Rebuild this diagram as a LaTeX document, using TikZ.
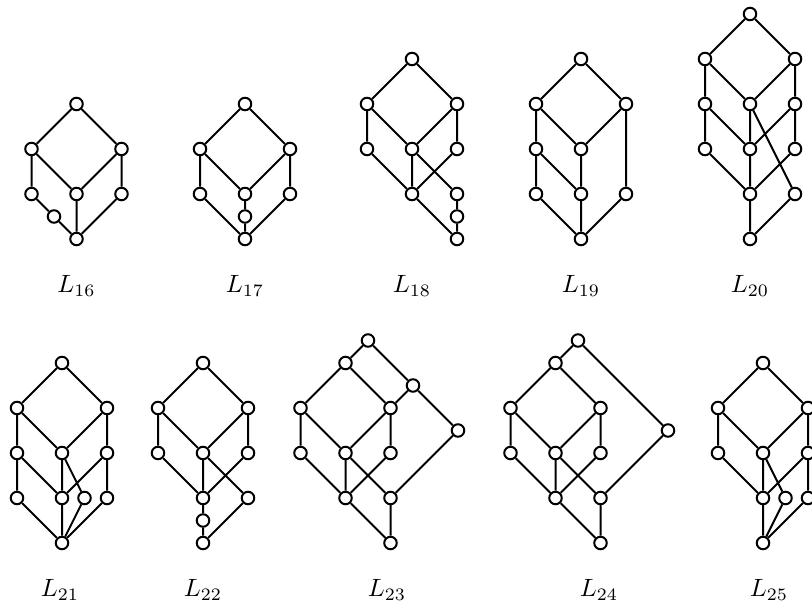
\documentclass[tikz,border=0pt]{standalone}
\begin{document}
\begin{tikzpicture}[x=0.4pt,y=-0.4pt,
  v/.style={circle,draw,fill=white,inner sep=0pt,minimum size=5pt,line width=0.8pt},
  e/.style={line width=0.8pt},
  lab/.style={anchor=base,inner sep=0pt}]
\useasboundingbox (0,0) rectangle (812,610);
% ---------- L16
\node[v] (a-t) at (76.5,104) {};
\node[v] (a-l2) at (31.5,149) {};
\node[v] (a-r2) at (121.5,149) {};
\node[v] (a-l3) at (31.5,194) {};
\node[v] (a-m3) at (76.5,194) {};
\node[v] (a-r3) at (121.5,194) {};
\node[v] (a-s) at (54,216.5) {};
\node[v] (a-b) at (76.5,239) {};
\draw[e] (a-t)--(a-l2) (a-t)--(a-r2) (a-l2)--(a-m3) (a-r2)--(a-m3)
  (a-l2)--(a-l3) (a-r2)--(a-r3) (a-l3)--(a-s) (a-s)--(a-b) (a-m3)--(a-b) (a-r3)--(a-b);
\node[lab] (lab16) at (76.5,293) {$L_{16}$};
% ---------- L17
\node[v] (b-t) at (245,104) {};
\node[v] (b-l2) at (200,149) {};
\node[v] (b-r2) at (290,149) {};
\node[v] (b-l3) at (200,194) {};
\node[v] (b-m3) at (245,194) {};
\node[v] (b-r3) at (290,194) {};
\node[v] (b-s) at (245,216.5) {};
\node[v] (b-b) at (245,239) {};
\draw[e] (b-t)--(b-l2) (b-t)--(b-r2) (b-l2)--(b-m3) (b-r2)--(b-m3)
  (b-l2)--(b-l3) (b-r2)--(b-r3) (b-l3)--(b-b) (b-m3)--(b-s) (b-s)--(b-b) (b-r3)--(b-b);
\node[lab] (lab17) at (245,293) {$L_{17}$};
% ---------- L18
\node[v] (c-t) at (412,59) {};
\node[v] (c-l2) at (367,104) {};
\node[v] (c-r2) at (457,104) {};
\node[v] (c-l3) at (367,149) {};
\node[v] (c-m3) at (412,149) {};
\node[v] (c-r3) at (457,149) {};
\node[v] (c-m4) at (412,194) {};
\node[v] (c-r4) at (457,194) {};
\node[v] (c-s) at (457,216.5) {};
\node[v] (c-b) at (457,239) {};
\draw[e] (c-t)--(c-l2) (c-t)--(c-r2) (c-l2)--(c-m3) (c-r2)--(c-m3)
  (c-l2)--(c-l3) (c-r2)--(c-r3) (c-l3)--(c-m4) (c-m3)--(c-m4) (c-r3)--(c-m4)
  (c-m3)--(c-r4) (c-r4)--(c-s) (c-s)--(c-b) (c-m4)--(c-b);
\node[lab] (lab18) at (412,293) {$L_{18}$};
% ---------- L19
\node[v] (d-t) at (581,59) {};
\node[v] (d-l2) at (536,104) {};
\node[v] (d-r2) at (626,104) {};
\node[v] (d-l3) at (536,149) {};
\node[v] (d-m3) at (581,149) {};
\node[v] (d-l4) at (536,194) {};
\node[v] (d-m4) at (581,194) {};
\node[v] (d-r4) at (626,194) {};
\node[v] (d-b) at (581,239) {};
\draw[e] (d-t)--(d-l2) (d-t)--(d-r2) (d-l2)--(d-m3) (d-r2)--(d-m3)
  (d-l2)--(d-l3) (d-l3)--(d-l4) (d-l3)--(d-m4) (d-m3)--(d-m4) (d-r2)--(d-r4)
  (d-l4)--(d-b) (d-m4)--(d-b) (d-r4)--(d-b);
\node[lab] (lab19) at (581,293) {$L_{19}$};
% ---------- L20
\node[v] (f-t) at (750,14) {};
\node[v] (f-l2) at (705,59) {};
\node[v] (f-r2) at (795,59) {};
\node[v] (f-l3) at (705,104) {};
\node[v] (f-m3) at (750,104) {};
\node[v] (f-r3) at (795,104) {};
\node[v] (f-l4) at (705,149) {};
\node[v] (f-m4) at (750,149) {};
\node[v] (f-r4) at (795,149) {};
\node[v] (f-m5) at (750,194) {};
\node[v] (f-r5) at (795,194) {};
\node[v] (f-b) at (750,239) {};
\draw[e] (f-t)--(f-l2) (f-t)--(f-r2) (f-l2)--(f-m3) (f-r2)--(f-m3)
  (f-l2)--(f-l3) (f-r2)--(f-r3) (f-l3)--(f-l4) (f-l3)--(f-m4) (f-m3)--(f-m4)
  (f-r3)--(f-m4) (f-r3)--(f-r4) (f-m3)--(f-r5) (f-l4)--(f-m5) (f-m4)--(f-m5)
  (f-r4)--(f-m5) (f-m5)--(f-b) (f-r5)--(f-b);
\node[lab] (lab20) at (750,293) {$L_{20}$};
% ---------- L21
\node[v] (g-t) at (62,363) {};
\node[v] (g-l2) at (17,408) {};
\node[v] (g-r2) at (107,408) {};
\node[v] (g-l3) at (17,453) {};
\node[v] (g-m3) at (62,453) {};
\node[v] (g-r3) at (107,453) {};
\node[v] (g-l4) at (17,498) {};
\node[v] (g-m4) at (62,498) {};
\node[v] (g-x4) at (84.5,498) {};
\node[v] (g-r4) at (107,498) {};
\node[v] (g-b) at (62,543) {};
\draw[e] (g-t)--(g-l2) (g-t)--(g-r2) (g-l2)--(g-m3) (g-r2)--(g-m3)
  (g-l2)--(g-l3) (g-r2)--(g-r3) (g-l3)--(g-l4) (g-l3)--(g-m4) (g-m3)--(g-m4)
  (g-r3)--(g-m4) (g-m3)--(g-x4) (g-r3)--(g-r4)
  (g-l4)--(g-b) (g-m4)--(g-b) (g-x4)--(g-b) (g-r4)--(g-b);
\node[lab] (lab21) at (60,597) {$L_{21}$};
% ---------- L22
\node[v] (h-t) at (203,363) {};
\node[v] (h-l2) at (158,408) {};
\node[v] (h-r2) at (248,408) {};
\node[v] (h-l3) at (158,453) {};
\node[v] (h-m3) at (203,453) {};
\node[v] (h-r3) at (248,453) {};
\node[v] (h-m4) at (203,498) {};
\node[v] (h-r4) at (248,498) {};
\node[v] (h-s) at (203,520.5) {};
\node[v] (h-b) at (203,543) {};
\draw[e] (h-t)--(h-l2) (h-t)--(h-r2) (h-l2)--(h-m3) (h-r2)--(h-m3)
  (h-l2)--(h-l3) (h-r2)--(h-r3) (h-l3)--(h-m4) (h-m3)--(h-m4) (h-r3)--(h-m4)
  (h-m3)--(h-r4) (h-m4)--(h-s) (h-s)--(h-b) (h-r4)--(h-b);
\node[lab] (lab22) at (203,597) {$L_{22}$};
% ---------- L23
\node[v] (i-t) at (368,340.5) {};
\node[v] (i-a) at (345.5,363) {};
\node[v] (i-d) at (413,385.5) {};
\node[v] (i-l3) at (300.5,408) {};
\node[v] (i-r3) at (390.5,408) {};
\node[v] (i-e) at (458,430.5) {};
\node[v] (i-l4) at (300.5,453) {};
\node[v] (i-m4) at (345.5,453) {};
\node[v] (i-r4) at (390.5,453) {};
\node[v] (i-m5) at (345.5,498) {};
\node[v] (i-r5) at (390.5,498) {};
\node[v] (i-b) at (390.5,543) {};
\draw[e] (i-t)--(i-a) (i-t)--(i-d) (i-a)--(i-l3) (i-a)--(i-r3) (i-d)--(i-r3) (i-d)--(i-e)
  (i-l3)--(i-l4) (i-l3)--(i-m4) (i-r3)--(i-m4) (i-r3)--(i-r4)
  (i-l4)--(i-m5) (i-m4)--(i-m5) (i-m4)--(i-r5) (i-r4)--(i-m5) (i-e)--(i-r5)
  (i-m5)--(i-b) (i-r5)--(i-b);
\node[lab] (lab23) at (387,597) {$L_{23}$};
% ---------- L24
\node[v] (j-t) at (578,340.5) {};
\node[v] (j-a) at (555.5,363) {};
\node[v] (j-l3) at (510.5,408) {};
\node[v] (j-r3) at (600.5,408) {};
\node[v] (j-e) at (668,430.5) {};
\node[v] (j-l4) at (510.5,453) {};
\node[v] (j-m4) at (555.5,453) {};
\node[v] (j-r4) at (600.5,453) {};
\node[v] (j-m5) at (555.5,498) {};
\node[v] (j-r5) at (600.5,498) {};
\node[v] (j-b) at (600.5,543) {};
\draw[e] (j-t)--(j-a) (j-t)--(j-e) (j-a)--(j-l3) (j-a)--(j-r3)
  (j-l3)--(j-l4) (j-l3)--(j-m4) (j-r3)--(j-m4) (j-r3)--(j-r4)
  (j-l4)--(j-m5) (j-m4)--(j-m5) (j-m4)--(j-r5) (j-r4)--(j-m5) (j-e)--(j-r5)
  (j-m5)--(j-b) (j-r5)--(j-b);
\node[lab] (lab24) at (599,597) {$L_{24}$};
% ---------- L25
\node[v] (k-t) at (763,363) {};
\node[v] (k-l2) at (718,408) {};
\node[v] (k-r2) at (808,408) {};
\node[v] (k-l3) at (718,453) {};
\node[v] (k-m3) at (763,453) {};
\node[v] (k-r3) at (808,453) {};
\node[v] (k-m4) at (763,498) {};
\node[v] (k-x4) at (785.5,498) {};
\node[v] (k-r4) at (808,498) {};
\node[v] (k-b) at (763,543) {};
\draw[e] (k-t)--(k-l2) (k-t)--(k-r2) (k-l2)--(k-m3) (k-r2)--(k-m3)
  (k-l2)--(k-l3) (k-r2)--(k-r3) (k-l3)--(k-m4) (k-m3)--(k-m4)
  (k-r3)--(k-m4) (k-m3)--(k-x4) (k-r3)--(k-r4)
  (k-m4)--(k-b) (k-x4)--(k-b) (k-r4)--(k-b);
\node[lab] (lab25) at (769,597) {$L_{25}$};
\end{tikzpicture}
\end{document}
